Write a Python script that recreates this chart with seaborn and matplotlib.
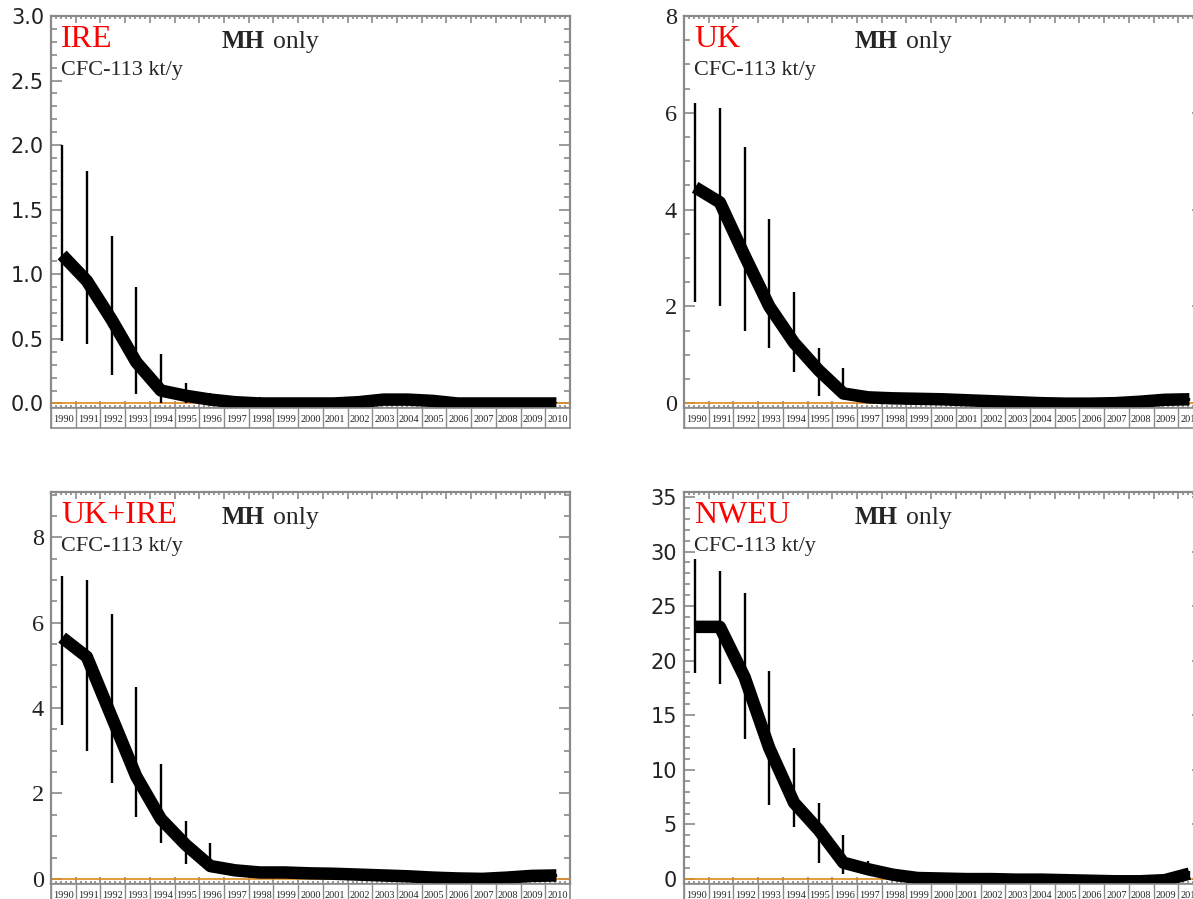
import matplotlib
matplotlib.use("Agg")
import matplotlib.pyplot as plt
import seaborn as sns
import pandas as pd
import numpy as np
from matplotlib.ticker import MultipleLocator

sns.set_style("ticks")
plt.rcParams["font.family"] = ["Liberation Serif", "DejaVu Sans"]

# ---- data (kt/y) ----
years = list(range(1990, 2011))
year_labels = [str(y) for y in years]

ire = [1.15, 0.95, 0.65, 0.32, 0.10, 0.06, 0.03, 0.01, 0.00, 0.00, 0.00,
       0.00, 0.01, 0.03, 0.03, 0.02, 0.00, 0.00, 0.00, 0.00, 0.00]
ire_lo = [0.48, 0.46, 0.22, 0.07, 0.00, 0.00, 0.00, 0.00, 0.00, 0.00, 0.00,
          0.00, 0.00, 0.01, 0.01, 0.00, 0.00, 0.00, 0.00, 0.00, 0.00]
ire_hi = [2.00, 1.80, 1.30, 0.90, 0.38, 0.16, 0.08, 0.05, 0.05, 0.02, 0.02,
          0.02, 0.06, 0.07, 0.07, 0.06, 0.01, 0.01, 0.01, 0.01, 0.01]

uk = [4.46, 4.15, 3.05, 2.00, 1.25, 0.68, 0.20, 0.12, 0.10, 0.09, 0.08,
      0.06, 0.04, 0.02, 0.00, -0.01, -0.01, 0.00, 0.03, 0.07, 0.08]
uk_lo = [2.10, 2.00, 1.50, 1.15, 0.65, 0.15, 0.10, 0.05, 0.05, 0.05, 0.05,
         0.03, 0.02, 0.00, -0.02, -0.03, -0.03, -0.02, 0.00, 0.04, 0.05]
uk_hi = [6.20, 6.10, 5.30, 3.80, 2.30, 1.15, 0.72, 0.20, 0.17, 0.15, 0.13,
         0.10, 0.07, 0.05, 0.03, 0.02, 0.01, 0.02, 0.06, 0.10, 0.11]

ukire = [5.65, 5.20, 3.80, 2.40, 1.40, 0.80, 0.30, 0.20, 0.15, 0.15, 0.13,
         0.12, 0.10, 0.08, 0.06, 0.03, 0.01, 0.00, 0.03, 0.07, 0.08]
ukire_lo = [3.60, 3.00, 2.25, 1.45, 0.85, 0.35, 0.15, 0.12, 0.10, 0.10, 0.09,
            0.08, 0.06, 0.05, 0.03, 0.00, -0.01, -0.02, 0.00, 0.04, 0.05]
ukire_hi = [7.10, 7.00, 6.20, 4.50, 2.70, 1.35, 0.85, 0.28, 0.20, 0.20, 0.17,
            0.16, 0.14, 0.11, 0.09, 0.06, 0.03, 0.02, 0.06, 0.10, 0.11]

nweu = [23.1, 23.1, 18.5, 12.0, 7.0, 4.5, 1.5, 0.9, 0.4, 0.1, 0.05,
        0.0, 0.0, -0.05, -0.05, -0.1, -0.15, -0.2, -0.2, -0.1, 0.5]
nweu_lo = [18.9, 17.9, 12.8, 6.8, 4.8, 1.5, 0.5, 0.5, 0.2, 0.0, 0.0,
           -0.1, -0.1, -0.15, -0.15, -0.2, -0.25, -0.3, -0.3, -0.2, 0.3]
nweu_hi = [29.3, 28.2, 26.2, 19.1, 12.0, 7.0, 4.0, 1.7, 0.8, 0.3, 0.25,
           0.2, 0.2, 0.15, 0.15, 0.1, 0.05, 0.0, 0.0, 0.1, 0.7]

panels = [
    # name, values, lo, hi, ylim, major, minor, tick font, tick size, format, (left, top) px
    ("IRE", ire, ire_lo, ire_hi, (-0.035, 3.0), 0.5, 0.1, "DejaVu Sans", 15, "%.1f",
     [51, 16]),
    ("UK", uk, uk_lo, uk_hi, (-0.1, 8.0), 2, 0.5, "Liberation Serif", 17.5, "%d",
     [684, 16]),
    ("UK+IRE", ukire, ukire_lo, ukire_hi, (-0.12, 9.06), 2, 0.5, "Liberation Serif", 17.5, "%d",
     [51, 492]),
    ("NWEU", nweu, nweu_lo, nweu_hi, (-0.45, 35.45), 5, 1, "DejaVu Sans", 15, "%d",
     [684, 492]),
]

W, H = 1193, 899
fig = plt.figure(figsize=(W / 100, H / 100), dpi=100)
grey = "#8a8a8a"
ax_w, ax_h, cell_h = 519, 392, 20
xpos = np.array(years) + 0.45

for name, vals, lo, hi, ylim, major, minor, tfont, tsize, fmt, (left, top) in panels:
    ax = fig.add_axes([left / W, (H - top - ax_h) / H, ax_w / W, ax_h / H])
    df = pd.DataFrame({"year": xpos, "value": vals})
    ax.axhline(0, color="#e08a1e", lw=1.2, zorder=1)
    ax.vlines(xpos, lo, hi, color="black", lw=1.7, zorder=2)
    sns.lineplot(data=df, x="year", y="value", ax=ax, color="black", lw=9,
                 solid_joinstyle="round", solid_capstyle="butt", zorder=3)
    ax.set_xlim(1990, 2011)
    ax.set_ylim(*ylim)
    ax.set_xlabel("")
    ax.set_ylabel("")
    ax.xaxis.set_major_locator(MultipleLocator(1))
    ax.xaxis.set_minor_locator(MultipleLocator(0.2))
    ax.yaxis.set_major_locator(MultipleLocator(major))
    ax.yaxis.set_minor_locator(MultipleLocator(minor))
    ax.yaxis.set_major_formatter(plt.FormatStrFormatter(fmt))
    ax.set_xticklabels([])
    ax.tick_params(axis="both", which="both", direction="in", color=grey,
                   top=True, right=True, width=1.2)
    ax.tick_params(axis="y", which="major", length=8, labelsize=tsize, pad=5)
    ax.tick_params(axis="y", which="minor", length=4)
    ax.tick_params(axis="x", which="major", length=5, labelbottom=False)
    ax.tick_params(axis="x", which="minor", length=2.5)
    for lab in ax.get_yticklabels():
        lab.set_fontfamily(tfont)
        lab.set_color("#222222")
    for sp in ax.spines.values():
        sp.set_color(grey)
        sp.set_linewidth(1.6)

    # panel annotations
    ax.annotate(name, xy=(0, 1), xycoords="axes fraction", xytext=(10, -31),
                textcoords="offset pixels", color="red", fontsize=23,
                family="Liberation Serif", va="baseline")
    ax.annotate("MH", xy=(0, 1), xycoords="axes fraction", xytext=(171, -32),
                textcoords="offset pixels", fontsize=18, fontweight="bold",
                family="Liberation Serif", va="baseline")
    ax.annotate("only", xy=(0, 1), xycoords="axes fraction", xytext=(222, -32),
                textcoords="offset pixels", fontsize=18.5,
                family="Liberation Serif", va="baseline")
    ax.annotate("CFC-113 kt/y", xy=(0, 1), xycoords="axes fraction", xytext=(10, -59),
                textcoords="offset pixels", fontsize=16,
                family="Liberation Serif", va="baseline")

    # row of year cells under the axis
    cax = fig.add_axes([left / W, (H - top - ax_h - cell_h) / H, ax_w / W, cell_h / H])
    cax.set_xlim(1990, 2011)
    cax.set_ylim(0, 1)
    cax.vlines(years, 0, 1, color=grey, lw=1.0)
    for y, lab in zip(years, year_labels):
        cax.text(y + 0.5, 0.42, lab, ha="center", va="center", fontsize=7.5,
                 family="Liberation Serif")
    cax.set_xticks([])
    cax.set_yticks([])
    for sp in cax.spines.values():
        sp.set_color(grey)
        sp.set_linewidth(1.2)

fig.savefig("out.png", dpi=100)
